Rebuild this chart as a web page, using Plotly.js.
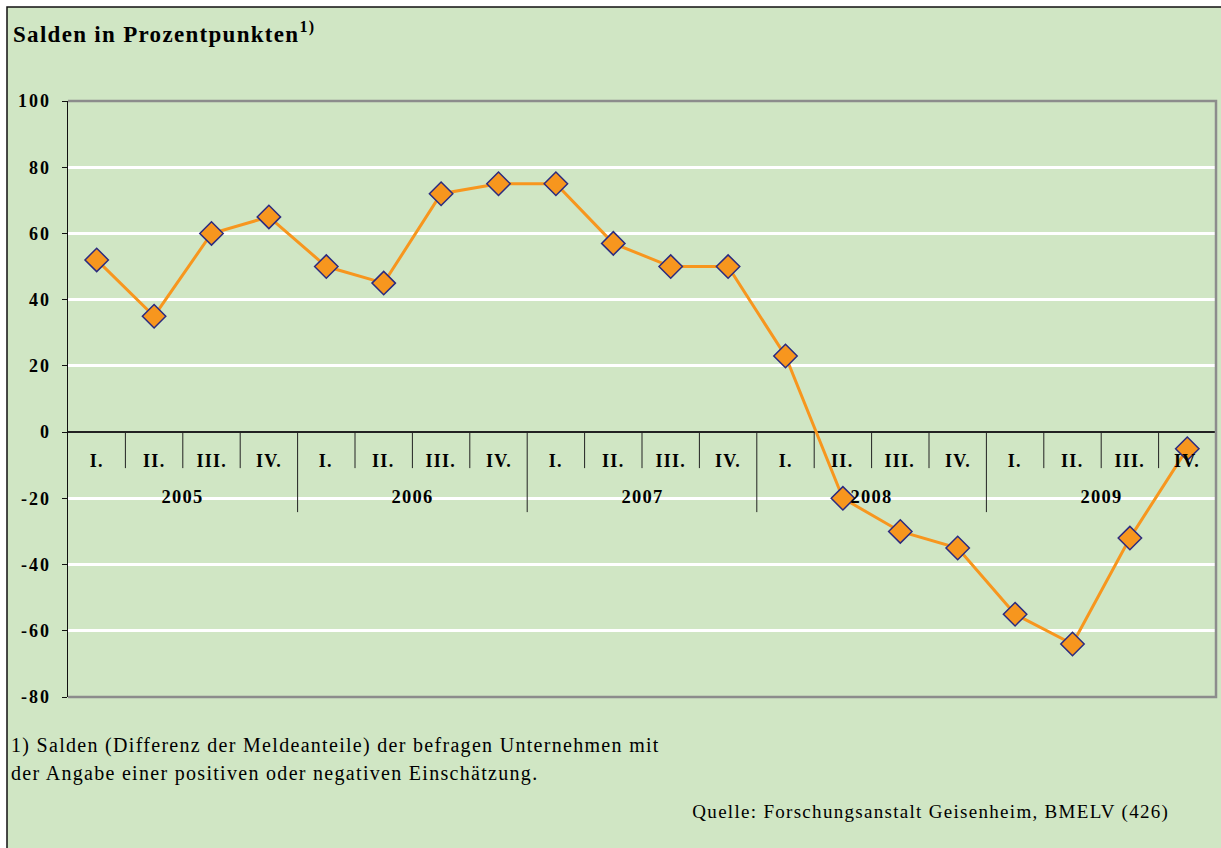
<!DOCTYPE html>
<html>
<head>
<meta charset="utf-8">
<script src="https://cdn.plot.ly/plotly-3.0.1.min.js"></script>
<style>
html,body{margin:0;padding:0;background:#fff;}
#chart{width:1221px;height:848px;}
#chart .annotation-text{letter-spacing:1.3px;}
#chart .ytick text{letter-spacing:2px;}
</style>
</head>
<body>
<div id="chart"></div>
<script>
// ---- data ----
const years = ['2005', '2006', '2007', '2008', '2009'];
const quarters = ['I.', 'II.', 'III.', 'IV.'];
const salden = [52, 35, 60, 65, 50, 45, 72, 75, 75, 57, 50, 50, 23, -20, -30, -35, -55, -64, -32, -5];
const yTicks = [-80, -60, -40, -20, 0, 20, 40, 60, 80, 100];
const titleText = 'Salden in Prozentpunkten';
const footnote1 = '1) Salden (Differenz der Meldeanteile) der befragen Unternehmen mit';
const footnote2 = 'der Angabe einer positiven oder negativen Einschätzung.';
const sourceText = 'Quelle: Forschungsanstalt Geisenheim, BMELV (426)';

// ---- build ----
const xIdx = [];
const qLabels = [];
years.forEach(function (y, yi) {
  quarters.forEach(function (q, qi) {
    xIdx.push(yi * quarters.length + qi);
    qLabels.push(q);
  });
});

const serif = 'Liberation Serif, Times New Roman, serif';
const W = 1221, H = 848, L = 68, R = 5, T = 101, B = 151;
const pw = W - L - R, ph = H - T - B;

const annotations = [];
const shapes = [];

// outer frame
shapes.push({
  type: 'rect', xref: 'paper', yref: 'paper', layer: 'below',
  x0: (7 - L) / pw, x1: (W + 3 - L) / pw,
  y0: (T + ph - (H + 3)) / ph, y1: (T + ph - 7) / ph,
  fillcolor: '#D0E6C4', line: {color: '#111', width: 1.5}
});
// plot area border (top, right, bottom)
shapes.push({
  type: 'path', xref: 'paper', yref: 'paper', layer: 'above',
  path: 'M0,1 L1,1 L1,0 L0,0',
  line: {color: '#8C8C8C', width: 2.5}
});

// category dividers
for (let i = 0; i < xIdx.length - 1; i++) {
  const isYear = (i + 1) % quarters.length === 0;
  shapes.push({
    type: 'line', xref: 'x', yref: 'y', ysizemode: 'pixel', yanchor: 0,
    x0: i + 0.5, x1: i + 0.5, y0: 0, y1: isYear ? -80 : -36,
    line: {color: '#222', width: 1}
  });
}
// quarter labels
xIdx.forEach(function (x, i) {
  annotations.push({
    x: x, y: 0, xref: 'x', yref: 'y', yshift: -29, yanchor: 'middle', xanchor: 'center',
    text: '<b>' + qLabels[i] + '</b>', showarrow: false,
    font: {family: serif, size: 18, color: '#000'}
  });
});
// year labels
years.forEach(function (y, yi) {
  annotations.push({
    x: yi * quarters.length + (quarters.length - 1) / 2, y: 0, xref: 'x', yref: 'y',
    yshift: -65, yanchor: 'middle', xanchor: 'center',
    text: '<b>' + y + '</b>', showarrow: false,
    font: {family: serif, size: 18.5, color: '#000'}
  });
});
// title
annotations.push({
  x: 0, y: 1, xref: 'paper', yref: 'paper', xanchor: 'left', yanchor: 'middle', align: 'left',
  xshift: 11 - L, yshift: T - 32,
  text: '<b>' + titleText + '<sup>1)</sup></b>', showarrow: false,
  font: {family: serif, size: 23, color: '#000'}
});
// footnotes
annotations.push({
  x: 0, y: 0, xref: 'paper', yref: 'paper', xanchor: 'left', yanchor: 'middle', align: 'left',
  xshift: 9 - L, yshift: -(745 - (T + ph)),
  text: footnote1, showarrow: false,
  font: {family: serif, size: 20, color: '#000'}
});
annotations.push({
  x: 0, y: 0, xref: 'paper', yref: 'paper', xanchor: 'left', yanchor: 'middle', align: 'left',
  xshift: 9 - L, yshift: -(773 - (T + ph)),
  text: footnote2, showarrow: false,
  font: {family: serif, size: 20, color: '#000'}
});
annotations.push({
  x: 1, y: 0, xref: 'paper', yref: 'paper', xanchor: 'right', yanchor: 'middle', align: 'right',
  xshift: 1171 - (L + pw), yshift: -(812 - (T + ph)),
  text: sourceText, showarrow: false,
  font: {family: serif, size: 19, color: '#000'}
});

const trace = {
  x: xIdx, y: salden, type: 'scatter', mode: 'lines+markers',
  line: {color: '#F7961E', width: 3},
  marker: {symbol: 'diamond', size: 18, color: '#F7961E', line: {color: '#2B2B80', width: 1.5}},
  hoverinfo: 'y', cliponaxis: false
};

const layout = {
  width: W, height: H,
  margin: {l: L, r: R, t: T, b: B, pad: 0},
  paper_bgcolor: '#ffffff',
  plot_bgcolor: 'rgba(0,0,0,0)',
  showlegend: false,
  xaxis: {
    range: [-0.5, xIdx.length - 0.5], showgrid: false, zeroline: false,
    showticklabels: false, ticks: '', showline: false, fixedrange: true
  },
  yaxis: {
    range: [-80, 100], tickvals: yTicks, ticktext: yTicks.map(String),
    showgrid: true, gridcolor: '#ffffff', gridwidth: 3,
    zeroline: true, zerolinecolor: '#222', zerolinewidth: 1.5,
    showline: true, linecolor: '#111', linewidth: 1.5,
    ticks: 'outside', ticklen: 5, tickcolor: '#111', tickwidth: 1,
    ticklabelstandoff: 7,
    tickfont: {family: serif, size: 18, color: '#000', weight: 'bold'},
    fixedrange: true
  },
  shapes: shapes,
  annotations: annotations
};

Plotly.newPlot('chart', [trace], layout, {displayModeBar: false, staticPlot: true});
</script>
</body>
</html>
